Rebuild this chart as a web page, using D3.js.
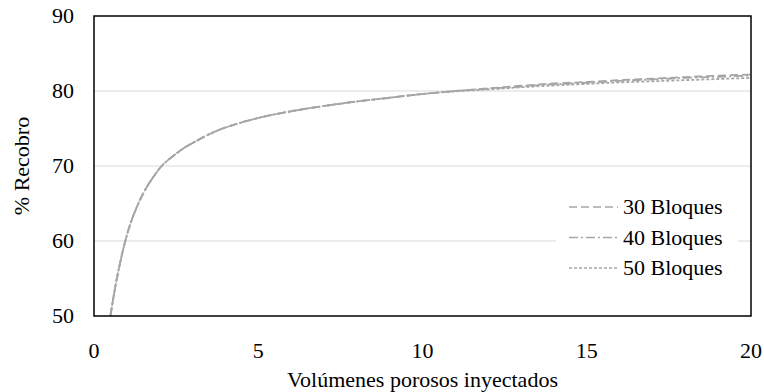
<!DOCTYPE html>
<html>
<head>
<meta charset="utf-8">
<script src="https://cdn.jsdelivr.net/npm/d3@7"></script>
</head>
<body style="margin:0">
<script>
// pore volumes injected (shared x values)
var pvi = [0.5, 0.6, 0.7, 0.8, 0.94, 1.1, 1.3, 1.58, 1.8, 2.04, 2.4, 2.74, 3.1, 3.44, 3.8, 4.26,
           5, 6, 7, 8, 9, 10, 11, 12, 13, 14, 15, 16, 17, 18, 19, 20];

var rec30 = [50, 52.7, 55.1, 57.2, 59.8, 62.2, 64.5, 67.0, 68.5, 69.9, 71.3, 72.4, 73.3, 74.1, 74.8, 75.5,
             76.4, 77.3, 78.0, 78.6, 79.1, 79.6, 80.0, 80.35, 80.7, 81.0, 81.2, 81.45, 81.65, 81.85, 82.05, 82.2];
var rec40 = [50, 52.7, 55.1, 57.2, 59.8, 62.2, 64.5, 67.0, 68.5, 69.9, 71.3, 72.4, 73.3, 74.1, 74.8, 75.5,
             76.4, 77.3, 78.0, 78.6, 79.1, 79.6, 80.0, 80.3, 80.6, 80.9, 81.1, 81.35, 81.55, 81.75, 81.9, 82.05];
var rec50 = [50, 52.7, 55.1, 57.2, 59.8, 62.2, 64.5, 67.0, 68.5, 69.9, 71.3, 72.4, 73.3, 74.1, 74.8, 75.5,
             76.4, 77.3, 78.0, 78.6, 79.1, 79.6, 79.95, 80.2, 80.5, 80.75, 80.95, 81.15, 81.3, 81.45, 81.6, 81.75];

var seriesNames = ["30 Bloques", "40 Bloques", "50 Bloques"];
var xTicks = [0, 5, 10, 15, 20];
var yTicks = [50, 60, 70, 80, 90];

var cfg = {
  w: 764, h: 392,
  left: 94, right: 751, top: 16, bottom: 316
};

// dash styles for each series
var dashes = ["8,4", "9,3,2,3", "3,2"];

var svg = d3.select("body").append("svg")
  .attr("width", cfg.w)
  .attr("height", cfg.h);

// serif text helper, same font everywhere
function serif(sel){
  return sel
    .attr("font-family", function(){ return "'Liberation Serif'"; })
    .attr("font-size", 22)
    .style("font-family", "'Liberation Serif'")
    .style("font-size", "22px");
}

var x = d3.scaleLinear().domain([0, 20]).range([cfg.left, cfg.right]);
var y = d3.scaleLinear().domain([50, 90]).range([cfg.bottom, cfg.top]);

// gridlines
svg.append("g")
  .selectAll("line")
  .data(yTicks.filter(function(d){ return d > 50 && d < 90; }))
  .enter().append("line")
  .attr("x1", cfg.left).attr("x2", cfg.right)
  .attr("y1", function(d){ return y(d); })
  .attr("y2", function(d){ return y(d); })
  .style("stroke", "#d9d9d9")
  .style("stroke-width", 1);

// y tick labels
svg.append("g")
  .selectAll("text")
  .data(yTicks)
  .enter().append("text")
  .attr("x", 74)
  .attr("y", function(d){ return y(d) + 7; })
  .attr("text-anchor", "end")
  .call(serif)
  .text(function(d){ return d; });

// x tick labels
svg.append("g")
  .selectAll("text")
  .data(xTicks)
  .enter().append("text")
  .attr("x", function(d){ return x(d); })
  .attr("y", 358)
  .attr("text-anchor", "middle")
  .call(serif)
  .text(function(d){ return d; });

// axis titles
svg.append("text")
  .attr("x", (cfg.left + cfg.right) / 2)
  .attr("y", 387)
  .attr("text-anchor", "middle")
  .call(serif)
  .text("Volúmenes porosos inyectados");

svg.append("text")
  .attr("transform", "translate(29," + ((cfg.top + cfg.bottom) / 2) + ") rotate(-90)")
  .attr("text-anchor", "middle")
  .call(serif)
  .text("% Recobro");

// curves
var allSeries = [rec30, rec40, rec50];
var line = d3.line()
  .x(function(d){ return x(d[0]); })
  .y(function(d){ return y(d[1]); })
  .curve(d3.curveMonotoneX);

svg.append("g")
  .selectAll("path")
  .data(allSeries)
  .enter().append("path")
  .attr("d", function(s){ return line(pvi.map(function(v, i){ return [v, s[i]]; })); })
  .style("fill", "none")
  .style("stroke", "#a6a6a6")
  .style("stroke-width", 1.8)
  .style("stroke-dasharray", function(d, i){ return dashes[i]; });

// legend
var legend = svg.append("g");
legend.append("rect")
  .attr("x", 556).attr("y", 190)
  .attr("width", 182).attr("height", 92)
  .style("fill", "#fff");

var item = legend.selectAll(".item")
  .data(seriesNames)
  .enter().append("g")
  .attr("class", "item")
  .attr("transform", function(d, i){ return "translate(0," + (207 + i * 30.5) + ")"; });

item.append("line")
  .attr("x1", 569).attr("x2", 618)
  .attr("y1", 0).attr("y2", 0)
  .style("stroke", "#a6a6a6")
  .style("stroke-width", 1.5)
  .style("stroke-dasharray", function(d, i){ return dashes[i]; });

item.append("text")
  .attr("x", 623)
  .attr("y", 7)
  .call(serif)
  .text(function(d){ return d; });

// plot frame
svg.append("rect")
  .attr("x", cfg.left).attr("y", cfg.top)
  .attr("width", cfg.right - cfg.left)
  .attr("height", cfg.bottom - cfg.top)
  .style("fill", "none")
  .style("stroke", "#000")
  .style("stroke-width", 1.5);
</script>
</body>
</html>
